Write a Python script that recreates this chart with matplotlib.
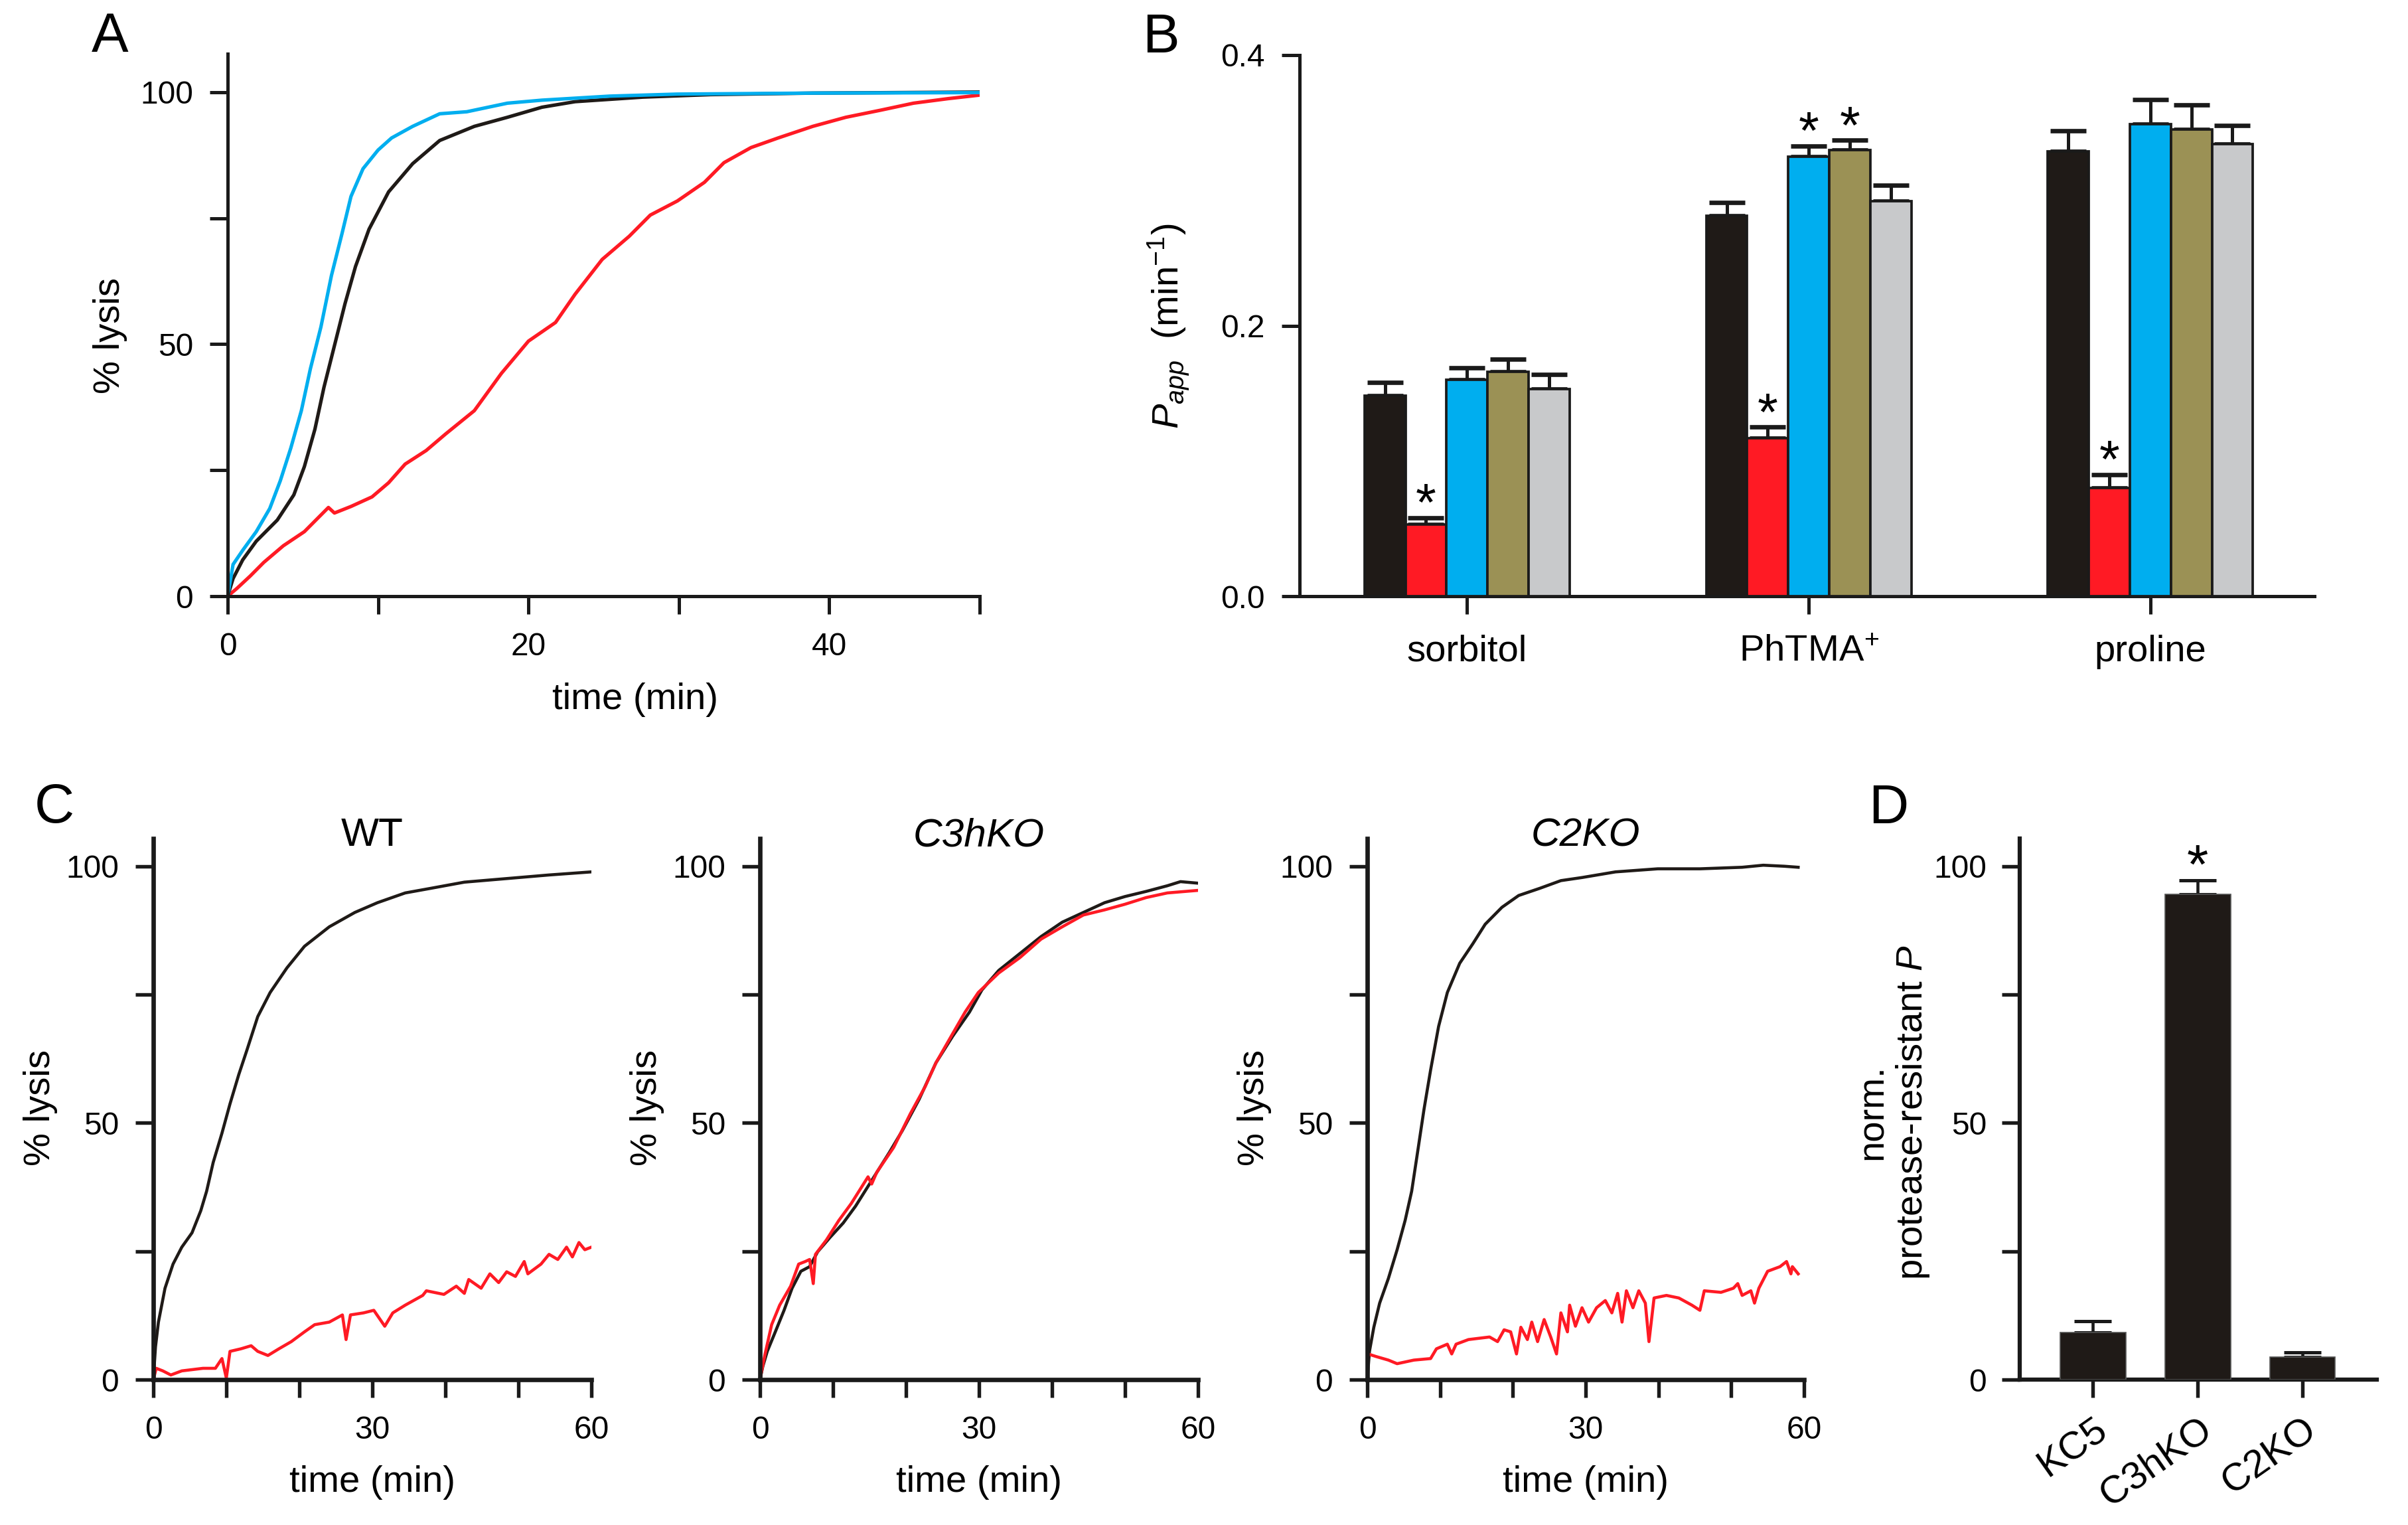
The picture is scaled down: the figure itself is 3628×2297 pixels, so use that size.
import matplotlib
matplotlib.use('Agg')
import matplotlib.pyplot as plt
import numpy as np

plt.rcParams['font.family'] = ['Liberation Sans', 'DejaVu Sans']
plt.rcParams['mathtext.fontset'] = 'custom'
plt.rcParams['mathtext.rm'] = 'Liberation Sans'
plt.rcParams['mathtext.it'] = 'Liberation Sans:italic'
plt.rcParams['mathtext.bf'] = 'Liberation Sans:bold'

# ---------------- data ----------------
# Panel A: % lysis vs time (min)
a_t_blue = [0, 0.36, 1.0, 1.9, 2.8, 3.5, 4.2, 4.9, 5.5, 6.2, 6.9, 7.6, 8.2, 9.0, 10.0, 10.9, 12.3, 14.1, 15.9, 18.6, 20.9, 25.4, 29.9, 38.9, 50]
a_blue = [0, 6.3, 9.1, 12.8, 17.4, 22.9, 29.4, 36.8, 45.1, 53.4, 63.6, 71.9, 79.3, 84.8, 88.5, 90.9, 93.2, 95.7, 96.1, 97.8, 98.4, 99.2, 99.6, 99.8, 99.9]
a_t_black = [0, 0.36, 1.0, 1.9, 3.3, 4.4, 5.1, 5.8, 6.4, 7.1, 7.8, 8.5, 9.4, 10.7, 12.3, 14.1, 16.4, 18.6, 20.9, 23.1, 27.6, 32.1, 38.9, 50]
a_black = [0, 3.5, 7.2, 10.9, 15.1, 20.1, 25.7, 33.1, 41.4, 49.7, 58.0, 65.4, 72.8, 80.2, 85.8, 90.4, 93.2, 95.0, 97.0, 98.1, 99.0, 99.5, 99.8, 100]
a_t_red = [0, 0.6, 1.5, 2.4, 3.7, 5.1, 6.0, 6.7, 7.1, 8.2, 9.6, 10.7, 11.8, 13.2, 14.5, 16.4, 18.2, 20.0, 21.8, 23.1, 24.9, 26.7, 28.1, 29.9, 31.7, 33.0, 34.8, 36.6, 38.9, 41.1, 43.4, 45.6, 47.9, 50]
a_red = [0, 1.5, 4.0, 6.7, 10.0, 12.8, 15.5, 17.6, 16.5, 17.8, 19.7, 22.5, 26.2, 28.9, 32.2, 36.8, 44.2, 50.6, 54.3, 59.9, 66.8, 71.4, 75.6, 78.4, 82.1, 86.0, 89.0, 90.9, 93.2, 95.0, 96.4, 97.8, 98.7, 99.4]

# Panel B: Papp (min^-1)
b_groups = ['sorbitol', 'PhTMA$^{+}$', 'proline']
b_black = [0.148, 0.281, 0.329]
b_black_err = [0.010, 0.010, 0.015]
b_red = [0.053, 0.117, 0.080]
b_red_err = [0.005, 0.008, 0.010]
b_blue = [0.160, 0.325, 0.349]
b_blue_err = [0.009, 0.008, 0.018]
b_olive = [0.166, 0.330, 0.345]
b_olive_err = [0.009, 0.007, 0.018]
b_gray = [0.153, 0.292, 0.334]
b_gray_err = [0.011, 0.012, 0.014]
b_stars = [(1, 0), (1, 1), (2, 1), (3, 1), (1, 2)]  # (series, group)

# Panel C: WT
c_wt_t_black = [0, 0.3, 0.7, 1.6, 2.7, 3.9, 5.3, 6.5, 7.3, 8.2, 9.4, 10.5, 11.7, 12.8, 14.3, 16.0, 18.3, 20.7, 24.1, 27.6, 30.7, 34.5, 38.0, 42.6, 48.4, 54.2, 60]
c_wt_black = [0, 6.4, 11.2, 17.8, 22.5, 25.8, 28.6, 32.9, 36.7, 42.3, 48.0, 53.7, 59.4, 64.1, 70.7, 75.4, 80.2, 84.4, 88.2, 91.0, 92.9, 94.8, 95.7, 96.9, 97.6, 98.3, 98.9]
c_wt_t_red = [0, 0.4, 1.3, 2.4, 3.9, 6.8, 8.5, 9.4, 10.0, 10.5, 12.0, 13.4, 14.3, 15.7, 17.2, 18.9, 20.7, 22.1, 24.1, 25.9, 26.4, 27.0, 28.8, 30.2, 31.7, 32.8, 34.5, 36.9, 37.4, 39.8, 41.5, 42.6, 43.2, 44.9, 46.1, 47.3, 48.4, 49.6, 50.8, 51.3, 53.1, 54.2, 55.4, 56.6, 57.4, 58.3, 59.1, 60]
c_wt_red = [0, 2.2, 1.7, 0.9, 1.7, 2.2, 2.2, 4.1, 0.3, 5.5, 6.0, 6.6, 5.5, 4.7, 6.0, 7.4, 9.3, 10.7, 11.2, 12.6, 7.8, 12.6, 13.0, 13.5, 10.4, 13.0, 14.5, 16.4, 17.3, 16.6, 18.2, 16.8, 19.5, 17.8, 20.6, 18.9, 21.0, 20.1, 23.0, 20.6, 22.5, 24.4, 23.4, 25.8, 23.9, 26.7, 25.3, 25.8]

# Panel C: C3hKO
c_c3_t_black = [0, 0.4, 1.0, 2.1, 3.3, 4.4, 5.6, 6.8, 7.9, 9.6, 11.4, 13.1, 15.4, 17.7, 19.5, 21.8, 24.1, 26.4, 28.7, 30.4, 32.7, 35.6, 38.5, 41.4, 44.3, 47.2, 50.0, 52.9, 55.8, 57.6, 60]
c_c3_black = [0, 2.6, 5.5, 9.3, 13.5, 17.8, 21.1, 22.0, 24.9, 27.7, 30.5, 33.8, 39.0, 44.2, 48.5, 54.6, 61.7, 66.9, 71.6, 75.9, 79.7, 83.0, 86.3, 89.1, 91.0, 92.9, 94.1, 95.1, 96.2, 97.0, 96.7]
c_c3_t_red = [0, 0.7, 1.6, 2.7, 4.2, 5.3, 6.2, 6.8, 7.3, 7.6, 9.1, 10.8, 12.5, 14.8, 15.3, 16.0, 18.3, 20.6, 22.6, 24.1, 26.4, 28.1, 29.9, 32.7, 35.6, 38.5, 41.4, 44.3, 47.2, 50.0, 52.9, 55.8, 60]
c_c3_red = [0, 5.0, 10.7, 14.5, 18.2, 22.5, 23.0, 23.4, 18.7, 24.4, 27.2, 31.0, 34.3, 39.5, 38.1, 40.4, 45.2, 51.8, 57.0, 61.7, 67.4, 71.6, 75.4, 79.2, 82.2, 85.8, 88.2, 90.5, 91.5, 92.6, 93.9, 94.8, 95.3]

# Panel C: C2KO
c_c2_t_black = [0, 0.3, 0.9, 1.7, 2.9, 4.1, 5.2, 6.1, 6.9, 7.8, 8.7, 9.8, 11.0, 12.7, 14.5, 16.2, 18.5, 20.8, 23.7, 26.6, 29.5, 34.1, 39.9, 45.7, 51.5, 54.4, 57.3, 59.2]
c_c2_black = [0, 5.5, 10.2, 14.9, 19.7, 25.3, 31.0, 36.7, 44.2, 52.7, 60.3, 68.8, 75.4, 81.1, 84.9, 88.7, 92.0, 94.3, 95.7, 97.2, 97.8, 98.9, 99.5, 99.5, 99.8, 100.2, 100.0, 99.8]
c_c2_t_red = [0, 0.1, 1.2, 2.9, 4.1, 6.4, 8.7, 9.5, 11.0, 11.6, 12.2, 13.9, 16.8, 17.9, 18.8, 19.7, 20.5, 21.1, 22.0, 22.6, 23.4, 24.3, 25.2, 26.0, 26.6, 27.5, 27.8, 28.6, 29.5, 30.4, 31.5, 32.7, 33.6, 34.4, 35.0, 35.6, 36.5, 37.3, 38.2, 38.7, 39.4, 41.1, 42.8, 44.6, 45.7, 46.3, 48.6, 50.3, 50.9, 51.5, 52.7, 53.2, 53.8, 55.0, 56.7, 57.6, 58.2, 58.4, 59.2]
c_c2_red = [0, 5.0, 4.5, 3.8, 3.1, 3.8, 4.1, 6.0, 6.9, 5.0, 6.9, 7.8, 8.3, 7.4, 9.7, 9.3, 5.0, 10.2, 7.8, 11.2, 7.4, 11.7, 8.3, 5.0, 13.0, 9.3, 14.5, 10.4, 14.0, 11.2, 14.0, 15.4, 13.0, 16.8, 11.2, 17.3, 14.0, 17.3, 14.9, 7.4, 15.9, 16.4, 15.9, 14.5, 13.5, 17.3, 17.0, 17.8, 18.7, 16.4, 17.3, 14.9, 17.8, 21.1, 22.0, 23.0, 20.6, 22.0, 20.6]

# Panel D: normalized protease-resistant P
d_cats = ['KC5', 'C3hKO', 'C2KO']
d_vals = [9.2, 94.6, 4.4]
d_err = [2.2, 2.6, 0.9]
d_stars = [1]

# ---------------- style ----------------
BLACK = '#1f1a17'
RED = '#ff1a24'
BLUE = '#00aeef'
OLIVE = '#9b9155'
GRAY = '#c8c9cb'

W, H = 3628, 2297
DPI = 300
fig = plt.figure(figsize=(W / DPI, H / DPI), dpi=DPI)


def add_ax(l, r, b, t):
    return fig.add_axes([l / W, 1 - b / H, (r - l) / W, (b - t) / H])


def style(ax, lw=1.3, tw=1.2):
    for s in ['top', 'right']:
        ax.spines[s].set_visible(False)
    for s in ['left', 'bottom']:
        ax.spines[s].set_linewidth(lw)
        ax.spines[s].set_color('#1a1a1a')
    ax.tick_params(direction='out', length=6.5, width=tw, labelsize=11.5, color='#1a1a1a')
    ax.tick_params(axis='y', pad=6)
    ax.tick_params(axis='x', pad=6.5)


LAB_FS = 13.5

# ---- Panel A ----
axA = add_ax(343, 1476, 898, 81)
style(axA, lw=1.2)
axA.plot(a_t_red, a_red, color=RED, lw=1.25)
axA.plot(a_t_black, a_black, color=BLACK, lw=1.25)
axA.plot(a_t_blue, a_blue, color=BLUE, lw=1.25)
axA.set_xlim(0, 50)
axA.set_ylim(0, 107.6)
axA.set_xticks([0, 10, 20, 30, 40, 50])
axA.set_xticklabels(['0', '', '20', '', '40', ''])
axA.set_yticks([0, 25, 50, 75, 100])
axA.set_yticklabels(['0', '', '50', '', '100'])
axA.set_xlabel('time (min)', fontsize=LAB_FS)
axA.xaxis.set_label_coords(0.542, -0.191)
axA.xaxis.label.set_va('center')
axA.set_ylabel('% lysis', fontsize=LAB_FS)
axA.yaxis.set_label_coords(-0.156, 0.480)
axA.yaxis.label.set_va('center')

# ---- Panel B ----
axB = add_ax(1958, 3487, 898, 83)
style(axB, lw=1.2)
series = [(b_black, b_black_err, BLACK), (b_red, b_red_err, RED), (b_blue, b_blue_err, BLUE),
          (b_olive, b_olive_err, OLIVE), (b_gray, b_gray_err, GRAY)]
bw = 0.12
gx = np.arange(len(b_groups))
for i, (vals, errs, col) in enumerate(series):
    xs = gx + (i - 2) * bw
    axB.errorbar(xs, vals, yerr=[np.zeros(len(vals)), errs], fmt='none', ecolor='#1a1a1a',
                 elinewidth=1.2, capsize=6.5, capthick=1.6, zorder=2)
    axB.bar(xs, vals, width=bw, color=col, edgecolor='#1a1a1a', linewidth=0.9, zorder=3)
for si, gi in b_stars:
    vals, errs, _ = series[si]
    axB.annotate('*', (gx[gi] + (si - 2) * bw, vals[gi] + errs[gi]), xytext=(0, -1),
                 textcoords='offset points', ha='center', va='baseline', fontsize=19)
axB.set_xlim(-0.49, 2.48)
axB.set_ylim(0, 0.4)
axB.set_yticks([0, 0.2, 0.4])
axB.set_yticklabels(['0.0', '0.2', '0.4'])
axB.set_xticks(gx)
axB.set_xticklabels(b_groups, fontsize=LAB_FS)
axB.tick_params(axis='x', pad=17)
for lbl in axB.get_xticklabels():
    lbl.set_va('baseline')
axB.set_ylabel(r'$P_{app}$  (min$^{-1}$)', fontsize=LAB_FS)
axB.yaxis.set_label_coords(-0.129, 0.499)
axB.yaxis.label.set_va('center')

# ---- Panel C ----
c_sets = [
    ('WT', 'normal', (231, 891), (c_wt_t_black, c_wt_black), (c_wt_t_red, c_wt_red)),
    ('C3hKO', 'italic', (1145, 1805), (c_c3_t_black, c_c3_black), (c_c3_t_red, c_c3_red)),
    ('C2KO', 'italic', (2060, 2718), (c_c2_t_black, c_c2_black), (c_c2_t_red, c_c2_red)),
]
for title, fstyle, (l, r), (tb, yb), (tr, yr) in c_sets:
    ax = add_ax(l, r, 2078, 1263)
    style(ax, lw=1.6, tw=1.3)
    ax.plot(tb, yb, color=BLACK, lw=1.1)
    ax.plot(tr, yr, color=RED, lw=1.1)
    ax.set_xlim(0, 60)
    ax.set_ylim(0, 105.4)
    ax.set_xticks(range(0, 61, 10))
    ax.set_xticklabels(['0', '', '', '30', '', '', '60'])
    ax.set_yticks([0, 25, 50, 75, 100])
    ax.set_yticklabels(['0', '', '50', '', '100'])
    ax.set_xlabel('time (min)', fontsize=LAB_FS)
    ax.xaxis.set_label_coords(0.5, -0.190)
    ax.xaxis.label.set_va('center')
    ax.set_ylabel('% lysis', fontsize=LAB_FS)
    ax.yaxis.set_label_coords(-170 / (r - l), 0.502)
    ax.yaxis.label.set_va('center')
    ax.text(0.5, 1.005, title, transform=ax.transAxes, ha='center', va='center',
            fontsize=14.5, style=fstyle)

# ---- Panel D ----
axD = add_ax(3043, 3581, 2078, 1263)
style(axD, lw=1.5, tw=1.3)
dx = np.arange(len(d_cats))
axD.errorbar(dx, d_vals, yerr=[np.zeros(len(d_vals)), d_err], fmt='none', ecolor='#1a1a1a',
             elinewidth=1.1, capsize=6.8, capthick=1.2, zorder=2)
axD.bar(dx, d_vals, width=0.627, color=BLACK, edgecolor='#555555', linewidth=0.4, zorder=3)
for si in d_stars:
    axD.annotate('*', (dx[si], d_vals[si] + d_err[si]), xytext=(0, -1),
                 textcoords='offset points', ha='center', va='baseline', fontsize=20)
axD.set_xlim(-0.70, 2.71)
axD.set_ylim(0, 105.4)
axD.set_yticks([0, 25, 50, 75, 100])
axD.set_yticklabels(['0', '', '50', '', '100'])
axD.tick_params(axis='y', pad=5.5)
axD.set_xticks(dx)
axD.set_xticklabels(d_cats, fontsize=14, rotation=35, ha='right', rotation_mode='anchor')
axD.tick_params(axis='x', pad=5)
axD.set_ylabel('norm.\nprotease-resistant $P$', fontsize=LAB_FS, linespacing=1.15)
axD.yaxis.set_label_coords(-0.353, 0.494)
axD.yaxis.label.set_va('center')

# ---- panel letters ----
for letter, (px, py) in {'A': (166, 56), 'B': (1749, 57), 'C': (82, 1217), 'D': (2845, 1218)}.items():
    fig.text(px / W, 1 - py / H, letter, ha='center', va='center', fontsize=20)

fig.savefig('out.png', dpi=DPI)
